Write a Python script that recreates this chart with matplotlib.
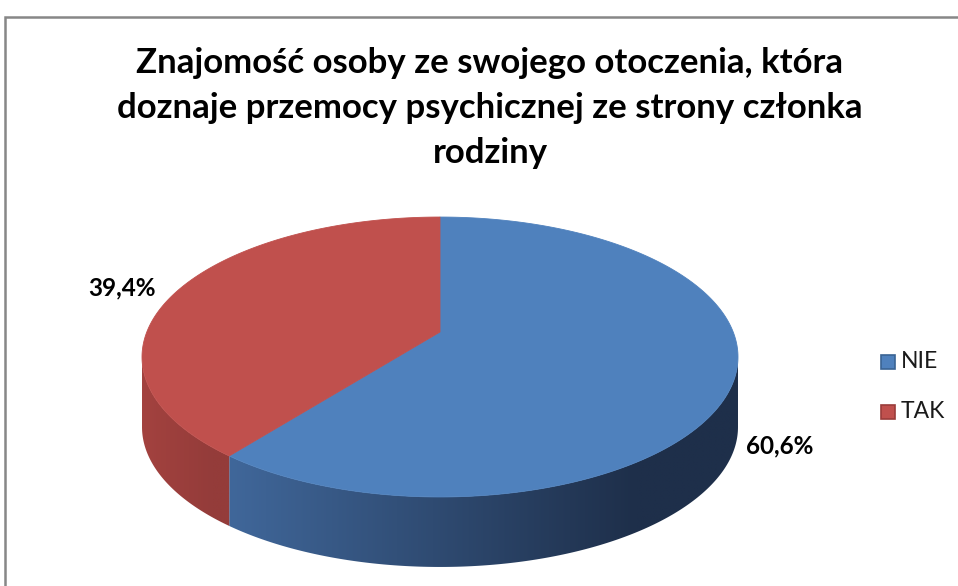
"""
3D-style pie chart: Znajomość osoby ... (NIE / TAK).
"""
import numpy as np
import matplotlib
matplotlib.use("Agg")
import matplotlib.pyplot as plt
from matplotlib.patches import Polygon, Rectangle
from matplotlib.colors import to_rgb

plt.rcParams['font.family'] = ['Lato', 'DejaVu Sans']

title = ("Znajomość osoby ze swojego otoczenia, która\n"
         "doznaje przemocy psychicznej ze strony członka\n"
         "rodziny")
labels = ["NIE", "TAK"]
values = [60.6, 39.4]
value_texts = ["60,6%", "39,4%"]
top_colors = ["#4F81BD", "#C0504D"]
side_left = ["#40679A", "#A3423F"]
side_right = ["#1E2F4A", "#943C3A"]
edge_colors = ["#3A6394", "#9A3C3A"]

# pie geometry (pixels): perspective-projected disc
cx, cy = 440, 332
A, B, K = 293.2, 135.5, 0.1786
depth = 70


def proj(deg):
    t = np.radians(deg)
    u, v = np.cos(t), np.sin(t)
    w = 1 + K * v
    return cx + A * u / w, cy - B * v / w


def front_part(a0, a1):
    # part of [a0, a1] whose rim faces the viewer
    lo_f = 180 + np.degrees(np.arcsin(K))
    hi_f = 360 - np.degrees(np.arcsin(K))
    for s in (-360, 0, 360):
        lo, hi = max(a0 + s, lo_f), min(a1 + s, hi_f)
        if lo < hi:
            return lo, hi
    return None


def gradient_fill(ax, poly, c0, c1):
    x0, x1 = poly[:, 0].min(), poly[:, 0].max()
    y0, y1 = poly[:, 1].min(), poly[:, 1].max()
    n = 200
    t = np.clip(np.linspace(0, 1, n) / 0.8, 0, 1)
    c0, c1 = np.array(to_rgb(c0)), np.array(to_rgb(c1))
    img = c0[None, :] + (c1 - c0)[None, :] * t[:, None]
    img = np.repeat(img[None, :, :], 2, axis=0)
    patch = Polygon(poly, closed=True, facecolor='none', edgecolor='none')
    ax.add_patch(patch)
    im = ax.imshow(img, extent=(x0, x1, y1, y0), aspect='auto',
                   interpolation='bilinear', zorder=2)
    im.set_clip_path(patch)


def main():
    fig = plt.figure(figsize=(9.58, 5.86), dpi=100)
    ax = fig.add_axes([0, 0, 1, 1])
    ax.set_xlim(0, 958)
    ax.set_ylim(586, 0)
    ax.axis('off')

    # chart frame
    ax.add_patch(Rectangle((5, 17), 980, 600, facecolor='white',
                           edgecolor='#878787', lw=1.8, zorder=0))

    # slice angles, clockwise from 12 o'clock
    total = sum(values)
    starts, ends = [], []
    a = 90.0
    for v in values:
        starts.append(a - 360 * v / total)
        ends.append(a)
        a -= 360 * v / total

    # side walls
    for i in range(len(values)):
        part = front_part(starts[i], ends[i])
        if part is None:
            continue
        t = np.linspace(part[0], part[1], 200)
        xs, ys = proj(t)
        poly = np.column_stack([np.concatenate([xs, xs[::-1]]),
                                np.concatenate([ys, ys[::-1] + depth])])
        gradient_fill(ax, poly, side_left[i], side_right[i])

    # top faces
    for i in range(len(values)):
        t = np.linspace(starts[i], ends[i], 300)
        xs, ys = proj(t)
        poly = np.column_stack([np.concatenate([[cx], xs]),
                                np.concatenate([[cy], ys])])
        ax.add_patch(Polygon(poly, closed=True, facecolor=top_colors[i],
                             edgecolor=top_colors[i], lw=0.6, zorder=3))

    # data labels
    label_pos = [(780, 446), (122, 288)]
    for txt, (x, y) in zip(value_texts, label_pos):
        ax.text(x, y, txt, ha='center', va='center', fontsize=17.5,
                fontweight='bold', color='black', zorder=5)

    # title
    ax.text(490, 163, title, ha='center', va='baseline', fontsize=25,
            fontweight='bold', linespacing=1.5, zorder=5)

    # legend
    leg_y = [362, 412]
    for i, lab in enumerate(labels):
        ax.add_patch(Rectangle((881, leg_y[i] - 7), 14, 14,
                               facecolor=top_colors[i],
                               edgecolor=edge_colors[i], lw=1.2, zorder=5))
        ax.text(901, leg_y[i], lab, ha='left', va='center', fontsize=16.5,
                color='#1a1a1a', zorder=5)

    fig.savefig("out.png", dpi=100)


if __name__ == "__main__":
    main()
